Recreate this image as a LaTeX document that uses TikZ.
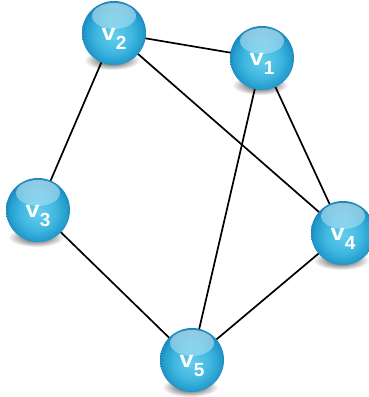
\documentclass[tikz,border=0pt]{standalone}
\usepackage{fontspec}
\setmainfont{Liberation Sans}
\usetikzlibrary{fadings,backgrounds}
\pgfdeclareradialshading{glossball}{\pgfpoint{0bp}{-2bp}}{rgb(0bp)=(0.40,0.80,0.93); rgb(14bp)=(0.25,0.72,0.88); rgb(22bp)=(0.15,0.62,0.81); rgb(28bp)=(0.08,0.48,0.69); rgb(50bp)=(0.08,0.48,0.69)}
\tikzfading[name=hlfade, top color=transparent!25, bottom color=transparent!100]
\tikzfading[name=softshadow, inner color=transparent!20, outer color=transparent!100]
\newcommand{\vlab}[1]{\bfseries\fontsize{23}{23}\selectfont\scalebox{1.1}[1]{v}\raisebox{-9pt}{\fontsize{19}{19}\selectfont #1}}
\tikzset{
  ball/.style={circle, inner sep=0pt, minimum size=64pt, shade, shading=glossball,
    text=white, text height=23pt, text depth=9pt,
    path picture={\fill[white, path fading=hlfade, fill opacity=0.7]
      ([yshift=17pt]path picture bounding box.center) ellipse (22pt and 13pt);}},
  edge/.style={line width=1.7pt, black},
  ballshadow/.style={fill=black, path fading=softshadow}
}
\begin{document}
\begin{tikzpicture}[x=1pt,y=-1pt]
\useasboundingbox (0,0) rectangle (369,397);
\node[ball] (v1) at (262,58) {\vlab{1}};
\node[ball] (v2) at (114,33) {\vlab{2}};
\node[ball] (v3) at (38,210) {\vlab{3}};
\node[ball] (v4) at (343,233) {\vlab{4}};
\node[ball] (v5) at (192,360) {\vlab{5}};
\begin{scope}[on background layer]
  \foreach \n in {v1,v2,v3,v4,v5}
    \fill[ballshadow] ([xshift=-2pt,yshift=-27pt]\n.center) ellipse (28pt and 10pt);
  \draw[edge] (v2.center) -- (v1.center);
  \draw[edge] (v2.center) -- (v3.center);
  \draw[edge] (v2.center) -- (v4.center);
  \draw[edge] (v1.center) -- (v4.center);
  \draw[edge] (v1.center) -- (v5.center);
  \draw[edge] (v3.center) -- (v5.center);
  \draw[edge] (v4.center) -- (v5.center);
\end{scope}
\end{tikzpicture}
\end{document}
